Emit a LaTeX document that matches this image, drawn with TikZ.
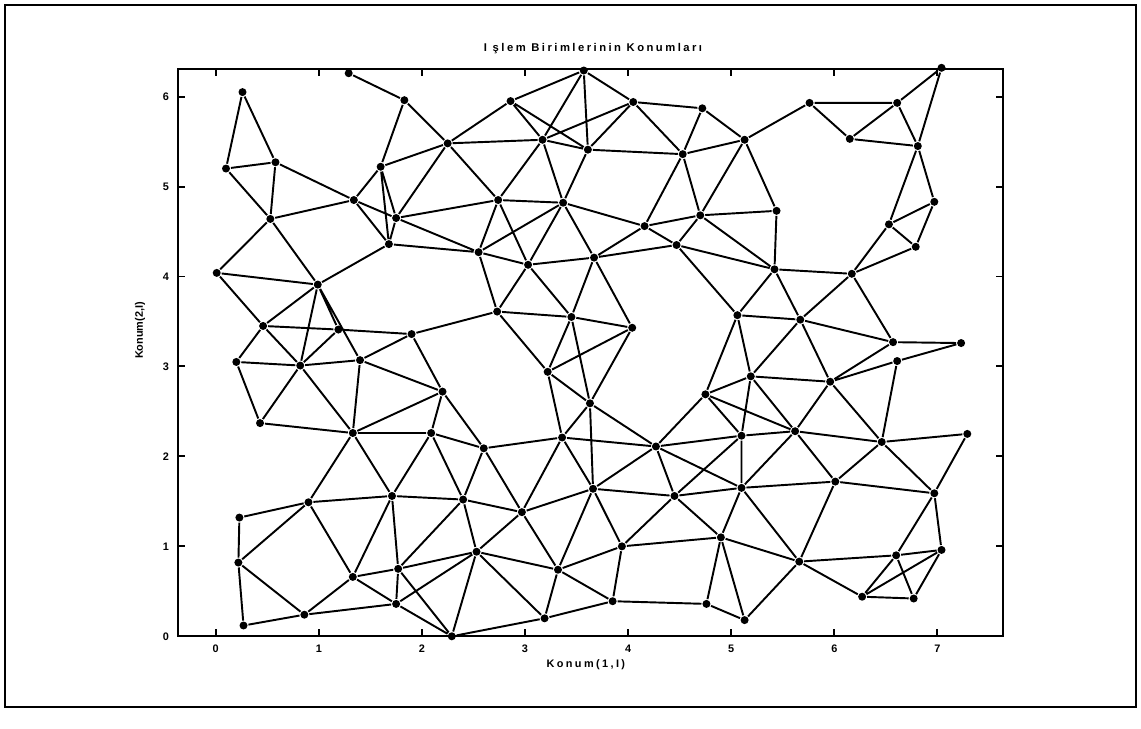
\documentclass[tikz,border=0pt]{standalone}
\usepackage{fontspec}
\setmainfont{Liberation Sans}
\newfontfamily\spacedfont[LetterSpace=22]{Liberation Sans}

\begin{document}
\begin{tikzpicture}[x=2.062cm,y=1.799cm,line width=1.1pt,
  pe/.style={circle,fill=black,inner sep=0pt,minimum size=1.6mm},
  lbl/.style={font=\bfseries\fontsize{6.2}{7}\selectfont,inner sep=0pt}]
\useasboundingbox (-4.314cm,-1.854cm) rectangle (18.506cm,12.726cm);
\draw[line width=0.8pt] (-4.214cm,-1.414cm) rectangle (18.406cm,12.626cm);
% axes box and ticks
\draw (-0.363,0) rectangle (7.633,6.307);
\foreach \i in {0,...,7} {\draw (\i,0) -- ++(0,0.14cm); \draw (\i,6.307) -- ++(0,-0.14cm);
  \node[lbl] (xt\i) at (\i,-0.141) {\i};}
\foreach \j in {0,...,6} {\draw (-0.363,\j) -- ++(0.14cm,0); \draw (7.633,\j) -- ++(-0.14cm,0);
  \node[lbl] (yt\j) at (-0.482,\j) {\j};}
\node[lbl,font=\bfseries\spacedfont\fontsize{6.4}{7}\selectfont] (title) at (3.66,6.53) {I şlem Birimlerinin Konumları};
\node[lbl,font=\bfseries\spacedfont\fontsize{6.2}{7}\selectfont] (xlab) at (3.59,-0.32) {Konum(1,I)};
\node[lbl,rotate=90] (ylab) at (-0.733,3.40) {Konum(2,I)};
% processing elements
\node[pe] (p1) at (1.29,6.26) {};\node[pe] (p2) at (0.26,6.05) {};\node[pe] (p3) at (1.83,5.96) {};\node[pe] (p4) at (2.25,5.48) {};
\node[pe] (p5) at (0.58,5.27) {};\node[pe] (p6) at (0.10,5.20) {};\node[pe] (p7) at (1.60,5.22) {};\node[pe] (p8) at (1.34,4.85) {};
\node[pe] (p9) at (0.53,4.64) {};\node[pe] (p10) at (1.75,4.65) {};\node[pe] (p11) at (1.68,4.36) {};\node[pe] (p12) at (3.57,6.29) {};
\node[pe] (p13) at (2.86,5.95) {};\node[pe] (p14) at (4.05,5.94) {};\node[pe] (p15) at (4.72,5.87) {};\node[pe] (p16) at (3.17,5.52) {};
\node[pe] (p17) at (3.61,5.41) {};\node[pe] (p18) at (4.53,5.36) {};\node[pe] (p19) at (2.74,4.85) {};\node[pe] (p20) at (3.37,4.82) {};
\node[pe] (p21) at (4.16,4.56) {};\node[pe] (p22) at (4.70,4.68) {};\node[pe] (p23) at (2.55,4.27) {};\node[pe] (p24) at (3.67,4.21) {};
\node[pe] (p25) at (4.47,4.35) {};\node[pe] (p26) at (7.04,6.32) {};\node[pe] (p27) at (5.76,5.93) {};\node[pe] (p28) at (6.61,5.93) {};
\node[pe] (p29) at (5.13,5.52) {};\node[pe] (p30) at (6.15,5.53) {};\node[pe] (p31) at (6.81,5.45) {};\node[pe] (p32) at (6.97,4.83) {};
\node[pe] (p33) at (5.44,4.73) {};\node[pe] (p34) at (6.53,4.58) {};\node[pe] (p35) at (6.79,4.33) {};\node[pe] (p36) at (0.01,4.04) {};
\node[pe] (p37) at (0.99,3.91) {};\node[pe] (p38) at (0.46,3.45) {};\node[pe] (p39) at (1.19,3.41) {};\node[pe] (p40) at (1.90,3.36) {};
\node[pe] (p41) at (0.20,3.05) {};\node[pe] (p42) at (0.82,3.01) {};\node[pe] (p43) at (1.40,3.07) {};\node[pe] (p44) at (2.20,2.72) {};
\node[pe] (p45) at (0.43,2.37) {};\node[pe] (p46) at (1.33,2.26) {};\node[pe] (p47) at (2.09,2.26) {};\node[pe] (p48) at (3.03,4.13) {};
\node[pe] (p49) at (2.73,3.61) {};\node[pe] (p50) at (3.45,3.55) {};\node[pe] (p51) at (4.04,3.43) {};\node[pe] (p52) at (3.22,2.94) {};
\node[pe] (p53) at (3.63,2.59) {};\node[pe] (p54) at (3.36,2.21) {};\node[pe] (p55) at (2.60,2.09) {};\node[pe] (p56) at (4.27,2.11) {};
\node[pe] (p57) at (5.06,3.57) {};\node[pe] (p58) at (4.75,2.69) {};\node[pe] (p59) at (5.10,2.23) {};\node[pe] (p60) at (5.42,4.08) {};
\node[pe] (p61) at (6.17,4.03) {};\node[pe] (p62) at (5.67,3.52) {};\node[pe] (p63) at (6.57,3.27) {};\node[pe] (p64) at (7.23,3.26) {};
\node[pe] (p65) at (6.61,3.06) {};\node[pe] (p66) at (5.19,2.89) {};\node[pe] (p67) at (5.96,2.83) {};\node[pe] (p68) at (5.62,2.28) {};
\node[pe] (p69) at (6.46,2.16) {};\node[pe] (p70) at (7.29,2.25) {};\node[pe] (p71) at (0.23,1.32) {};\node[pe] (p72) at (0.90,1.49) {};
\node[pe] (p73) at (1.71,1.56) {};\node[pe] (p74) at (2.40,1.52) {};\node[pe] (p75) at (0.22,0.82) {};\node[pe] (p76) at (1.33,0.66) {};
\node[pe] (p77) at (1.77,0.75) {};\node[pe] (p78) at (0.86,0.24) {};\node[pe] (p79) at (1.75,0.36) {};\node[pe] (p80) at (0.27,0.12) {};
\node[pe] (p81) at (2.29,0.00) {};\node[pe] (p82) at (2.97,1.38) {};\node[pe] (p83) at (3.66,1.64) {};\node[pe] (p84) at (4.45,1.56) {};
\node[pe] (p85) at (2.53,0.94) {};\node[pe] (p86) at (3.94,1.00) {};\node[pe] (p87) at (4.90,1.10) {};\node[pe] (p88) at (3.32,0.74) {};
\node[pe] (p89) at (3.85,0.39) {};\node[pe] (p90) at (4.76,0.36) {};\node[pe] (p91) at (3.19,0.20) {};\node[pe] (p92) at (5.10,1.65) {};
\node[pe] (p93) at (6.01,1.72) {};\node[pe] (p94) at (6.97,1.59) {};\node[pe] (p95) at (5.66,0.83) {};\node[pe] (p96) at (6.60,0.90) {};
\node[pe] (p97) at (7.04,0.96) {};\node[pe] (p98) at (6.27,0.44) {};\node[pe] (p99) at (6.77,0.42) {};\node[pe] (p100) at (5.13,0.18) {};
% links
\draw (p1)--(p3) (p2)--(p6) (p2)--(p5) (p6)--(p5) (p6)--(p9) (p5)--(p9) (p5)--(p8) (p9)--(p8) (p9)--(p36) (p9)--(p37)
  (p3)--(p7) (p3)--(p4) (p7)--(p4) (p7)--(p8) (p7)--(p10) (p7)--(p11) (p4)--(p10) (p4)--(p13) (p4)--(p16) (p4)--(p19)
  (p8)--(p10) (p8)--(p11) (p10)--(p11) (p10)--(p19) (p10)--(p23) (p11)--(p37) (p11)--(p23)
  (p12)--(p13) (p12)--(p16) (p12)--(p17) (p12)--(p14) (p13)--(p16) (p13)--(p17) (p16)--(p14) (p16)--(p17) (p16)--(p19) (p16)--(p20)
  (p14)--(p17) (p14)--(p15) (p14)--(p18) (p17)--(p18) (p17)--(p20) (p15)--(p18) (p15)--(p29) (p18)--(p29) (p18)--(p21) (p18)--(p22)
  (p22)--(p29) (p22)--(p33) (p22)--(p60) (p22)--(p21) (p22)--(p25) (p19)--(p20) (p19)--(p23) (p19)--(p48)
  (p20)--(p23) (p20)--(p48) (p20)--(p24) (p20)--(p21) (p21)--(p24) (p21)--(p25) (p24)--(p25) (p25)--(p60) (p25)--(p57)
  (p26)--(p28) (p26)--(p31) (p27)--(p28) (p27)--(p29) (p27)--(p30) (p28)--(p30) (p28)--(p31) (p30)--(p31) (p29)--(p33)
  (p31)--(p34) (p31)--(p32) (p32)--(p34) (p32)--(p35) (p34)--(p35) (p34)--(p61) (p33)--(p60) (p35)--(p61)
  (p60)--(p61) (p60)--(p57) (p60)--(p62) (p61)--(p62) (p61)--(p63) (p57)--(p62) (p57)--(p66) (p57)--(p58)
  (p62)--(p63) (p62)--(p66) (p62)--(p67) (p63)--(p64) (p63)--(p67) (p65)--(p64) (p65)--(p67) (p65)--(p69)
  (p66)--(p67) (p66)--(p68) (p66)--(p59) (p66)--(p58) (p67)--(p68) (p67)--(p69) (p68)--(p59) (p68)--(p69) (p68)--(p92) (p68)--(p93)
  (p69)--(p70) (p69)--(p93) (p69)--(p94) (p70)--(p94) (p58)--(p68) (p58)--(p59) (p58)--(p56) (p59)--(p92) (p59)--(p84) (p59)--(p56)
  (p23)--(p48) (p23)--(p49) (p48)--(p24) (p48)--(p49) (p48)--(p50) (p24)--(p50) (p24)--(p51)
  (p49)--(p50) (p49)--(p40) (p49)--(p52) (p50)--(p51) (p50)--(p52) (p50)--(p53) (p51)--(p52) (p51)--(p53)
  (p52)--(p53) (p52)--(p54) (p53)--(p54) (p53)--(p56) (p53)--(p83) (p54)--(p55) (p54)--(p56) (p54)--(p83) (p54)--(p82)
  (p44)--(p55) (p47)--(p55) (p36)--(p37) (p36)--(p38) (p37)--(p38) (p37)--(p42) (p37)--(p39) (p37)--(p43)
  (p38)--(p39) (p38)--(p41) (p38)--(p42) (p39)--(p40) (p39)--(p42) (p40)--(p44) (p40)--(p43)
  (p41)--(p42) (p41)--(p45) (p42)--(p43) (p42)--(p45) (p42)--(p46) (p43)--(p44) (p43)--(p46) (p44)--(p46) (p44)--(p47)
  (p45)--(p46) (p46)--(p47) (p46)--(p72) (p46)--(p73) (p47)--(p73) (p47)--(p74)
  (p71)--(p72) (p71)--(p75) (p72)--(p73) (p72)--(p75) (p72)--(p76) (p73)--(p74) (p73)--(p76) (p73)--(p77)
  (p74)--(p77) (p74)--(p55) (p74)--(p82) (p74)--(p85) (p75)--(p78) (p75)--(p80) (p76)--(p77) (p76)--(p78) (p76)--(p79)
  (p77)--(p79) (p77)--(p81) (p77)--(p85) (p78)--(p79) (p78)--(p80) (p79)--(p81) (p79)--(p85) (p81)--(p85) (p81)--(p91)
  (p55)--(p82) (p82)--(p83) (p82)--(p85) (p82)--(p88) (p83)--(p84) (p83)--(p88) (p83)--(p86)
  (p84)--(p86) (p84)--(p87) (p84)--(p92) (p56)--(p83) (p56)--(p84) (p56)--(p92)
  (p85)--(p88) (p85)--(p91) (p88)--(p86) (p88)--(p91) (p88)--(p89) (p86)--(p87) (p86)--(p89) (p89)--(p90) (p89)--(p91)
  (p87)--(p90) (p87)--(p95) (p87)--(p100) (p87)--(p92) (p90)--(p100) (p92)--(p93) (p92)--(p95)
  (p93)--(p94) (p93)--(p95) (p94)--(p97) (p94)--(p96) (p95)--(p96) (p95)--(p98) (p95)--(p100)
  (p96)--(p98) (p96)--(p99) (p96)--(p97) (p97)--(p98) (p97)--(p99) (p98)--(p99);
\end{tikzpicture}
\end{document}
